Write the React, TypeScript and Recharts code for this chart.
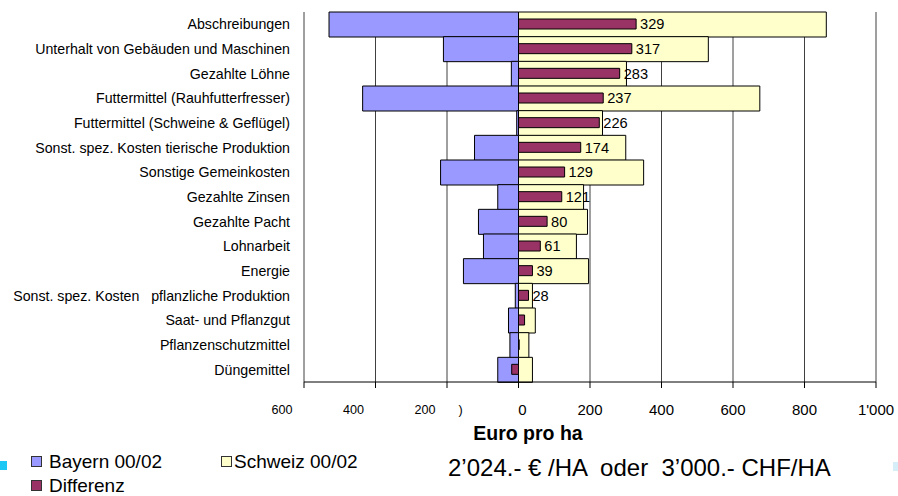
import React from 'react';
import { BarChart, Bar, XAxis, YAxis, CartesianGrid, LabelList, Legend, Label } from 'recharts';

const FONT = '"Liberation Sans", Arial, sans-serif';

const categories = [
  'Abschreibungen',
  'Unterhalt von Gebäuden und Maschinen',
  'Gezahlte Löhne',
  'Futtermittel (Rauhfutterfresser)',
  'Futtermittel (Schweine & Geflügel)',
  'Sonst. spez. Kosten tierische Produktion',
  'Sonstige Gemeinkosten',
  'Gezahlte Zinsen',
  'Gezahlte Pacht',
  'Lohnarbeit',
  'Energie',
  'Sonst. spez. Kosten\u00a0\u00a0 pflanzliche Produktion',
  'Saat- und Pflanzgut',
  'Pflanzenschutzmittel',
  'Düngemittel',
];

// Bayern costs (Euro pro ha), drawn to the left of zero
const bayern = [530, 210, 20, 436, 5, 123, 218, 58, 112, 98, 154, 9, 28, 24, 58];
// Schweiz costs (Euro pro ha)
const schweiz = [861, 531, 302, 675, 235, 300, 350, 182, 193, 162, 196, 39, 47, 29, 39];
// Differenz
const differenz = [329, 317, 283, 237, 226, 174, 129, 121, 80, 61, 39, 28, 17, 2, -19];

const seriesNames = ['Bayern 00/02', 'Schweiz 00/02', 'Differenz'];
const xTicks = [-600, -400, -200, 0, 200, 400, 600, 800, 1000];
const xTickLabels = ['600', '400', '200', '0', '200', '400', '600', '800', "1'000"];
const axisTitle = 'Euro pro ha';
const note = '2\u2019024.- \u20ac /HA  oder  3\u2019000.- CHF/HA';

const BLUE = '#9999ff';
const YELLOW = '#ffffcc';
const MAROON = '#993366';

const XTick = (props: any) => {
  const { x, y, payload } = props;
  const v = payload.value;
  const label = xTickLabels[xTicks.indexOf(v)];
  if (v < 0) {
    return (
      <text x={x - 22} y={y + 23.5} textAnchor="middle" fontSize={12.6} fill="#000">
        {label}
      </text>
    );
  }
  if (v === 0) {
    return (
      <g>
        <text x={x - 58} y={y + 23.5} textAnchor="middle" fontSize={12.6} fill="#000">)</text>
        <text x={x + 4} y={y + 24.5} textAnchor="middle" fontSize={15} fill="#000">{label}</text>
      </g>
    );
  }
  return (
    <text x={x} y={y + 24.5} textAnchor="middle" fontSize={15} fill="#000">
      {label}
    </text>
  );
};

const EmptyTick = () => <g />;

const EuroLabel = (props: any) => {
  const vb = props.viewBox;
  return (
    <text x={vb.x + 224} y={vb.y + 58} textAnchor="middle" fontSize={19.5} fontWeight="bold" fill="#000">
      {axisTitle}
    </text>
  );
};

const legendPos: Record<string, { left: number; top: number; tx: number }> = {
  'Bayern 00/02': { left: 31, top: 456, tx: 49 },
  'Schweiz 00/02': { left: 221, top: 456, tx: 234 },
  Differenz: { left: 31, top: 480, tx: 49 },
};

const LegendContent = (props: any) => {
  const payload = props.payload || [];
  return (
    <div style={{ position: 'relative', width: 898, height: 0 }}>
      {payload.map((p: any, i: number) => {
        const q = legendPos[p.value] || legendPos['Bayern 00/02'];
        return (
          <React.Fragment key={i}>
            <div
              style={{
                position: 'absolute',
                left: q.left,
                top: q.top,
                width: 9,
                height: 9,
                background: p.color,
                border: '1px solid #333',
              }}
            />
            <div
              style={{
                position: 'absolute',
                left: q.tx,
                top: q.top - 4,
                fontSize: 19,
                lineHeight: '19px',
                whiteSpace: 'nowrap',
                color: '#000',
              }}
            >
              {p.value}
            </div>
          </React.Fragment>
        );
      })}
    </div>
  );
};

export default function App() {
  const data = categories.map((name, i) => ({
    name,
    bayern: -bayern[i],
    schweiz: schweiz[i],
    differenz: differenz[i],
  }));
  return (
    <div
      style={{
        position: 'absolute',
        left: 0,
        top: 0,
        width: 898,
        height: 496,
        background: '#fff',
        fontFamily: FONT,
        overflow: 'hidden',
      }}
    >
      <BarChart
        width={898}
        height={496}
        data={data}
        layout="vertical"
        margin={{ top: 12, right: 22, bottom: 0, left: 0 }}
        barCategoryGap={0}
        barGap={0}
        stackOffset="sign"
      >
        <CartesianGrid horizontal={false} vertical stroke="#404040" strokeWidth={1} />
        <XAxis
          type="number"
          domain={[-600, 1000]}
          ticks={xTicks}
          interval={0}
          height={114}
          tickSize={6}
          tickMargin={2}
          tickLine={{ stroke: '#000' }}
          axisLine={{ stroke: '#000' }}
          tick={XTick}
          allowDataOverflow
        >
          <Label content={EuroLabel} />
        </XAxis>
        <XAxis
          xAxisId="top"
          orientation="top"
          type="number"
          domain={[-600, 1000]}
          ticks={xTicks}
          interval={0}
          height={0}
          tickSize={6}
          tickLine={{ stroke: '#000' }}
          axisLine={{ stroke: '#000' }}
          tick={EmptyTick}
          allowDataOverflow
        />
        <YAxis
          type="category"
          dataKey="name"
          width={304}
          interval={0}
          tickLine={false}
          axisLine={false}
          tickSize={6}
          tickMargin={8}
          tick={{ fontSize: 14.2, fill: '#000' }}
        />
        <YAxis yAxisId="d" type="category" dataKey="name" hide />
        <Bar
          dataKey="bayern"
          name={seriesNames[0]}
          stackId="a"
          fill={BLUE}
          stroke="#000"
          strokeWidth={1}
          isAnimationActive={false}
        />
        <Bar
          dataKey="schweiz"
          name={seriesNames[1]}
          stackId="a"
          fill={YELLOW}
          stroke="#000"
          strokeWidth={1}
          isAnimationActive={false}
        />
        <Bar
          dataKey="differenz"
          name={seriesNames[2]}
          yAxisId="d"
          barSize={10}
          fill={MAROON}
          stroke="#000"
          strokeWidth={1}
          isAnimationActive={false}
        >
          <LabelList
            dataKey="differenz"
            position="right"
            offset={4}
            fontSize={14.6}
            fill="#000"
            formatter={(v: any) => (Number(v) >= 25 ? v : '')}
          />
        </Bar>
        <Legend
          layout="horizontal"
          align="center"
          verticalAlign="middle"
          content={LegendContent}
          wrapperStyle={{ left: 0, top: 0, width: 898, height: 0 }}
        />
      </BarChart>
      <div
        style={{
          position: 'absolute',
          left: 448,
          top: 456,
          fontSize: 24,
          lineHeight: '24px',
          whiteSpace: 'pre',
          color: '#000',
        }}
      >
        {note}
      </div>
      <div style={{ position: 'absolute', left: 0, top: 461, width: 7, height: 9, background: '#1ec8f5' }} />
      <div style={{ position: 'absolute', left: 893, top: 462, width: 5, height: 9, background: '#d6eef8' }} />
    </div>
  );
}
